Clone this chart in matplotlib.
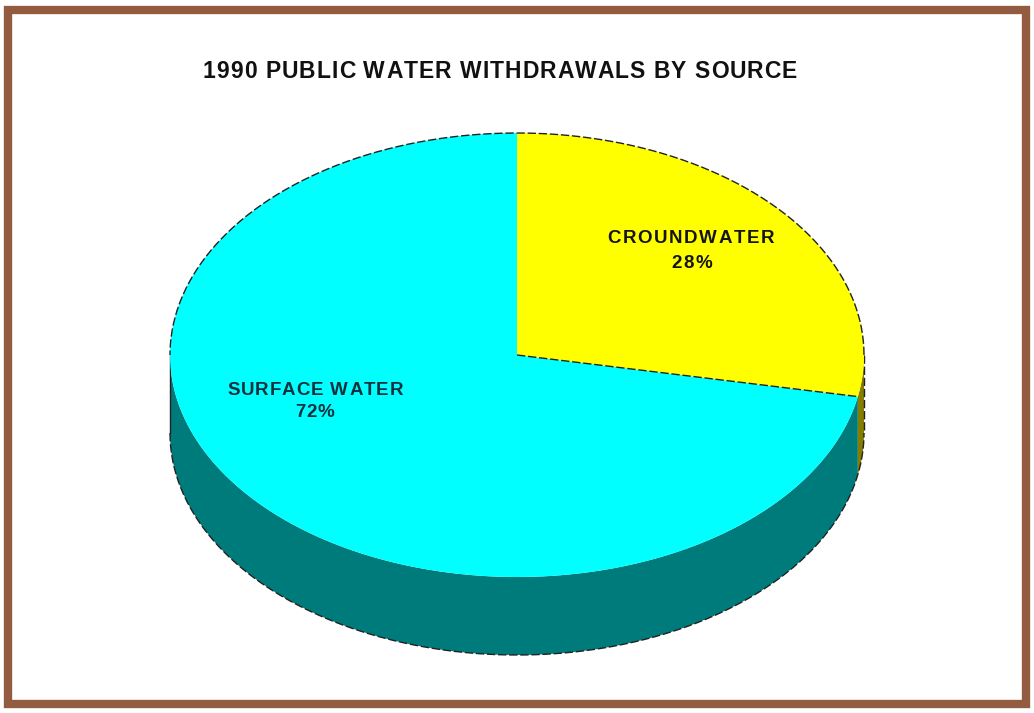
import numpy as np
import matplotlib
matplotlib.use("Agg")
import matplotlib.pyplot as plt
from matplotlib.patches import Polygon, Rectangle
from matplotlib.font_manager import FontProperties

# Data
sources = ["SURFACE WATER", "CROUNDWATER"]
shares = [72, 28]
title = "1990 PUBLIC WATER WITHDRAWALS BY SOURCE"

top_colors = ["#00FFFF", "#FFFF00"]
side_colors = ["#007B7B", "#857D00"]
label_colors = ["#13303D", "#151515"]

W, H = 1034, 713
fig = plt.figure(figsize=(W / 100, H / 100), dpi=100)
ax = fig.add_axes([0, 0, 1, 1])
ax.set_xlim(0, W)
ax.set_ylim(H, 0)
ax.axis("off")
renderer = fig.canvas.get_renderer()


def char_widths(s, prop):
    """Advance width (px) of each character, spaces included."""
    ref, _, _ = renderer.get_text_width_height_descent("HH", prop, ismath=False)
    out = []
    for c in s:
        w, _, _ = renderer.get_text_width_height_descent("H" + c + "H", prop, ismath=False)
        out.append(w - ref)
    return np.array(out)


def tracked_text(x_center, y_base, s, prop, color, width=None, tracking=None):
    """Draw letter-spaced text centred on x_center; returns the tracking used."""
    cw = char_widths(s, prop)
    if tracking is None:
        tracking = (width - cw.sum()) / max(len(s) - 1, 1)
    total = cw.sum() + tracking * (len(s) - 1)
    x = x_center - total / 2
    for c, w in zip(s, cw):
        ax.text(x, y_base, c, ha="left", va="baseline", fontproperties=prop,
                color=color, zorder=6)
        x += w + tracking
    return tracking


# Frame
ax.add_patch(Rectangle((8, 10), 1018, 694, fill=False, edgecolor="#935B3F", linewidth=6))

# Pie geometry (pixel space)
cx, cy = 517, 355
a, b = 347, 222
depth = 78


def ellipse_pts(t0, t1, n=200):
    t = np.radians(np.linspace(t0, t1, n))
    return cx + a * np.cos(t), cy - b * np.sin(t)


# Slice spans: groundwater starts at 12 o'clock and runs clockwise
total = float(sum(shares))
gw_span = shares[1] / total * 360.0
gw = (90.0 - gw_span, 90.0)
sw = (90.0 - 360.0, 90.0 - gw_span)
spans = [sw, gw]

# Side walls (lower half of the rim only)
for (t0, t1), col in zip(spans, side_colors):
    s0, s1 = (t0 + 360) % 360, (t1 + 360) % 360
    if s1 <= s0:
        s1 += 360
    v0, v1 = max(s0, 180), min(s1, 360)
    if v1 <= v0:
        continue
    xs, ys = ellipse_pts(v0, v1)
    px = np.concatenate([xs, xs[::-1]])
    py = np.concatenate([ys, ys[::-1] + depth])
    ax.add_patch(Polygon(np.column_stack([px, py]), closed=True,
                         facecolor=col, edgecolor="none", zorder=2))

dash = (0, (6, 2))
xs, ys = ellipse_pts(180, 360)
ax.plot(xs, ys + depth, color="#222222", lw=1.0, ls=dash, zorder=3)
ax.plot([cx - a, cx - a], [cy, cy + depth], color="#222222", lw=1.0, zorder=3)
ax.plot([cx + a, cx + a], [cy, cy + depth], color="#222222", lw=1.0, ls=dash, zorder=3)

# Top faces
for (t0, t1), col in zip(spans, top_colors):
    xs, ys = ellipse_pts(t0, t1, 400)
    px = np.concatenate([[cx], xs])
    py = np.concatenate([[cy], ys])
    ax.add_patch(Polygon(np.column_stack([px, py]), closed=True,
                         facecolor=col, edgecolor="none", zorder=4))

xs, ys = ellipse_pts(0, 180)
ax.plot(xs, ys, color="#222222", lw=1.0, ls=dash, zorder=5)
xs, ys = ellipse_pts(gw[0], gw[0], 2)
ax.plot([cx, xs[0]], [cy, ys[0]], color="#222222", lw=1.0, ls=dash, zorder=5)

# Slice labels
lab_prop = FontProperties(family="Liberation Sans", weight="bold", size=13.5)
tr = tracked_text(691, 243, sources[1], lab_prop, label_colors[1], width=167)
tracked_text(692, 268, f"{shares[1]}%", lab_prop, label_colors[1], tracking=tr)
tr = tracked_text(315, 395, sources[0], lab_prop, label_colors[0], width=176)
tracked_text(315, 417, f"{shares[0]}%", lab_prop, label_colors[0], tracking=tr)

# Title
title_prop = FontProperties(family="Liberation Sans", weight="bold", size=16.5)
tracked_text(500, 78, title, title_prop, "#111111", width=594)

fig.savefig("out.png", dpi=100, facecolor="white")
